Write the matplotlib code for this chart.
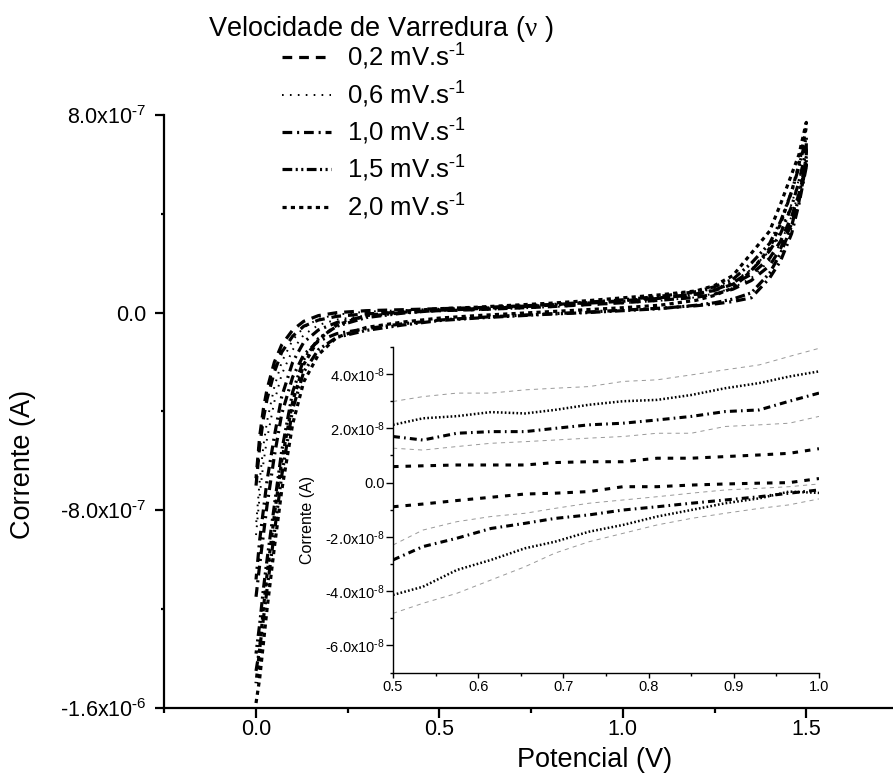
import numpy as np
import matplotlib
matplotlib.use("Agg")
import matplotlib.pyplot as plt
from matplotlib.ticker import MultipleLocator, FixedLocator, FixedFormatter

plt.rcParams['font.family'] = ['Liberation Sans', 'DejaVu Sans']
plt.rcParams['mathtext.fontset'] = 'custom'
plt.rcParams['mathtext.rm'] = 'Liberation Serif'
plt.rcParams['mathtext.default'] = 'regular'
plt.rcParams['lines.scale_dashes'] = False

# --- main plot data (current in units of 1e-7 A) ---
potencial = np.array([0.00, 0.01, 0.02, 0.03, 0.05, 0.07, 0.10, 0.13, 0.17, 0.22,
                      0.30, 0.40, 0.50, 0.60, 0.70, 0.80, 0.90, 1.00, 1.10, 1.20,
                      1.25, 1.30, 1.35, 1.40, 1.43, 1.46, 1.48, 1.50])

i02_ida = [-7.0, -5.4, -4.3, -3.5, -2.4, -1.6, -0.95, -0.55, -0.3, -0.15, -0.05, 0.02, 0.08, 0.12,
           0.18, 0.24, 0.32, 0.4, 0.5, 0.62, 0.75, 0.95, 1.3, 1.9, 2.6, 3.6, 4.5, 6.0]
i02_volta = [-6.7, -5.0, -3.9, -3.1, -2.0, -1.3, -0.7, -0.35, -0.12, 0.0, 0.08, 0.12, 0.16, 0.2,
             0.26, 0.32, 0.4, 0.48, 0.6, 0.75, 0.9, 1.15, 1.55, 2.2, 2.9, 3.9, 4.8, 6.0]
i06_ida = [-9.0, -7.4, -6.1, -5.1, -3.6, -2.5, -1.5, -0.9, -0.5, -0.28, -0.12, -0.02, 0.06, 0.1,
           0.16, 0.22, 0.3, 0.38, 0.48, 0.62, 0.78, 1.0, 1.4, 2.1, 2.8, 3.9, 4.9, 6.4]
i06_volta = [-8.6, -6.8, -5.4, -4.4, -3.0, -2.0, -1.1, -0.6, -0.25, -0.08, 0.04, 0.1, 0.16, 0.2,
             0.26, 0.32, 0.4, 0.5, 0.62, 0.8, 0.98, 1.25, 1.75, 2.5, 3.3, 4.4, 5.4, 6.4]
i10_ida = [-11.5, -10.2, -9.0, -7.8, -5.8, -4.1, -2.6, -1.7, -1.15, -0.85, -0.65, -0.45, -0.3, -0.2,
           -0.12, -0.05, 0.02, 0.1, 0.18, 0.28, 0.35, 0.45, 0.6, 1.4, 2.1, 3.2, 4.4, 5.9]
i10_volta = [-10.8, -9.2, -8.0, -6.8, -5.0, -3.4, -2.0, -1.2, -0.7, -0.4, -0.15, 0.0, 0.1, 0.15,
             0.22, 0.3, 0.38, 0.46, 0.58, 0.75, 0.92, 1.2, 1.7, 2.5, 3.2, 4.3, 5.3, 6.6]
i15_ida = [-14.5, -13.6, -12.4, -11.2, -8.9, -6.6, -3.9, -2.4, -1.5, -1.0, -0.72, -0.5, -0.32, -0.22,
           -0.14, -0.06, 0.0, 0.08, 0.16, 0.3, 0.4, 0.55, 0.8, 1.6, 2.4, 3.5, 4.7, 6.3]
i15_volta = [-13.8, -12.6, -11.2, -10.0, -7.8, -5.6, -3.2, -1.9, -1.05, -0.55, -0.2, -0.02, 0.1, 0.16,
             0.24, 0.32, 0.42, 0.52, 0.66, 0.85, 1.05, 1.35, 2.0, 2.8, 3.7, 4.9, 5.9, 7.1]
i20_ida = [-15.8, -14.8, -13.4, -12.0, -9.5, -7.2, -4.5, -2.8, -1.7, -1.0, -0.6, -0.38, -0.22, -0.12,
           -0.04, 0.04, 0.12, 0.2, 0.3, 0.5, 0.7, 1.0, 1.7, 2.6, 3.6, 4.9, 6.0, 7.5]
i20_volta = [-15.0, -13.6, -12.0, -10.6, -8.2, -6.0, -3.6, -2.1, -1.1, -0.5, -0.12, 0.06, 0.16, 0.22,
             0.3, 0.38, 0.48, 0.6, 0.72, 0.88, 1.1, 1.5, 2.4, 3.3, 4.4, 5.6, 6.4, 7.7]

titulo_legenda = 'Velocidade de Varredura ($\\mathrm{\\nu}$ )'
rotulos = ['0,2 mV.s$^{\\text{-}1}$', '0,6 mV.s$^{\\text{-}1}$', '1,0 mV.s$^{\\text{-}1}$',
           '1,5 mV.s$^{\\text{-}1}$', '2,0 mV.s$^{\\text{-}1}$']
curvas = [(i02_ida, i02_volta), (i06_ida, i06_volta), (i10_ida, i10_volta),
          (i15_ida, i15_volta), (i20_ida, i20_volta)]
estilos = [dict(dashes=(7, 5), lw=2.3),
           dict(dashes=(1.2, 4.5), lw=1.4),
           dict(dashes=(7, 3.5, 1.5, 3.5), lw=2.3),
           dict(dashes=(7, 2.5, 1.5, 2.5, 1.5, 2.5), lw=2.3),
           dict(dashes=(3, 3), lw=2.3)]

# --- inset data (current in units of 1e-8 A) ---
pot_ins = np.array([0.50, 0.535, 0.575, 0.615, 0.655, 0.69, 0.73, 0.77, 0.81, 0.85, 0.89, 0.93, 0.965, 1.00])
ins_tracejada_sup = [0.59, 0.62, 0.65, 0.65, 0.65, 0.74, 0.77, 0.77, 0.9, 0.9, 0.96, 1.02, 1.08, 1.25]
ins_tracejada_inf = [-0.89, -0.79, -0.66, -0.54, -0.42, -0.39, -0.33, -0.15, -0.15, -0.09, -0.05, -0.02, 0.0, 0.15]
ins_cinza1_sup = [1.27, 1.2, 1.33, 1.45, 1.51, 1.57, 1.64, 1.7, 1.82, 1.82, 2.07, 2.13, 2.19, 2.44]
ins_cinza1_inf = [-2.3, -1.75, -1.44, -1.25, -1.13, -0.95, -0.76, -0.64, -0.52, -0.39, -0.27, -0.21, -0.15, -0.05]
ins_tracoponto_sup = [1.7, 1.57, 1.82, 1.88, 1.88, 2.0, 2.13, 2.19, 2.31, 2.44, 2.62, 2.68, 3.0, 3.3]
ins_tracoponto_inf = [-2.85, -2.36, -2.05, -1.69, -1.5, -1.32, -1.19, -1.01, -0.89, -0.76, -0.64, -0.52, -0.39, -0.27]
ins_pontilhada_sup = [2.13, 2.37, 2.45, 2.6, 2.55, 2.68, 2.87, 3.0, 3.05, 3.23, 3.48, 3.67, 3.91, 4.1]
ins_pontilhada_inf = [-4.14, -3.84, -3.22, -2.85, -2.42, -2.18, -1.81, -1.56, -1.25, -1.01, -0.76, -0.58, -0.33, -0.38]
ins_cinza2_sup = [2.99, 3.17, 3.3, 3.3, 3.42, 3.48, 3.54, 3.73, 3.79, 3.97, 4.16, 4.34, 4.65, 4.95]
ins_cinza2_inf = [-4.82, -4.45, -4.08, -3.59, -3.1, -2.6, -2.18, -1.87, -1.56, -1.32, -1.13, -0.95, -0.82, -0.6]

yticks_main = [-1.6e-6, -8e-7, 0.0, 8e-7]
yticklabels_main = ['-1.6x10$^{\\text{-}6}$', '-8.0x10$^{\\text{-}7}$', '0.0', '8.0x10$^{\\text{-}7}$']
yticks_ins = [-6e-8, -4e-8, -2e-8, 0.0, 2e-8, 4e-8]
yticklabels_ins = ['-6.0x10$^{\\text{-}8}$', '-4.0x10$^{\\text{-}8}$', '-2.0x10$^{\\text{-}8}$', '0.0',
                   '2.0x10$^{\\text{-}8}$', '4.0x10$^{\\text{-}8}$']

fig = plt.figure(figsize=(8.93, 7.78), dpi=100)
ax = fig.add_axes([0.184, 0.090, 0.8216, 0.7622])

for (ida, volta), rot, est in zip(curvas, rotulos, estilos):
    v = np.concatenate([potencial, potencial[::-1]])
    i = np.concatenate([ida, volta[::-1]]) * 1e-7
    ax.plot(v, i, color='black', label=rot, **est)

ax.set_xlim(-0.25, 1.75)
ax.set_ylim(-1.6e-6, 8e-7)
ax.xaxis.set_major_locator(FixedLocator([0.0, 0.5, 1.0, 1.5]))
ax.xaxis.set_major_formatter(FixedFormatter(['0.0', '0.5', '1.0', '1.5']))
ax.xaxis.set_minor_locator(MultipleLocator(0.25))
ax.yaxis.set_major_locator(FixedLocator(yticks_main))
ax.yaxis.set_major_formatter(FixedFormatter(yticklabels_main))
ax.yaxis.set_minor_locator(MultipleLocator(4e-7))
for s in ['top', 'right']:
    ax.spines[s].set_visible(False)
for s in ['left', 'bottom']:
    ax.spines[s].set_linewidth(1.6)
ax.tick_params(which='both', direction='out', width=1.6, labelsize=15.5)
ax.tick_params(axis='x', which='major', length=7, pad=1)
ax.tick_params(axis='x', which='minor', length=3.5)
ax.tick_params(axis='y', which='major', length=6.2, pad=6.5)
ax.tick_params(axis='y', which='minor', length=2.5)
ax.set_xlabel('Potencial (V)', fontsize=19.5)
ax.set_ylabel('Corrente (A)', fontsize=19.5)
ax.xaxis.set_label_coords(0.587, -0.066)
ax.yaxis.set_label_coords(-0.175, 0.41)

# legend title as a separate text, entries below it
fig.text(381 / 893, 1 - 29 / 778, titulo_legenda, ha='center', va='center', fontsize=19.5)
leg = ax.legend(loc='upper left', bbox_to_anchor=(282 / 893, 1 - 42 / 778),
                bbox_transform=fig.transFigure, frameon=False, fontsize=18.5,
                handlelength=1.9, handletextpad=0.62, labelspacing=0.28,
                borderpad=0, borderaxespad=0)

# --- inset ---
axi = fig.add_axes([0.4401, 0.1356, 0.4770, 0.4184], facecolor='none')
preto = 'black'
cinza = '0.6'
axi.plot(pot_ins, np.array(ins_cinza2_sup) * 1e-8, color=cinza, lw=0.7, dashes=(3, 3))
axi.plot(pot_ins, np.array(ins_cinza2_inf) * 1e-8, color=cinza, lw=0.7, dashes=(3, 3))
axi.plot(pot_ins, np.array(ins_cinza1_sup) * 1e-8, color=cinza, lw=0.7, dashes=(3, 3))
axi.plot(pot_ins, np.array(ins_cinza1_inf) * 1e-8, color=cinza, lw=0.7, dashes=(3, 3))
axi.plot(pot_ins, np.array(ins_tracejada_sup) * 1e-8, color=preto, lw=2.2, dashes=(4, 5))
axi.plot(pot_ins, np.array(ins_tracejada_inf) * 1e-8, color=preto, lw=2.2, dashes=(4, 5))
axi.plot(pot_ins, np.array(ins_tracoponto_sup) * 1e-8, color=preto, lw=2.2, dashes=(5, 3, 1.2, 3))
axi.plot(pot_ins, np.array(ins_tracoponto_inf) * 1e-8, color=preto, lw=2.2, dashes=(5, 3, 1.2, 3))
axi.plot(pot_ins, np.array(ins_pontilhada_sup) * 1e-8, color=preto, lw=1.8, dashes=(1.2, 1.6))
axi.plot(pot_ins, np.array(ins_pontilhada_inf) * 1e-8, color=preto, lw=1.8, dashes=(1.2, 1.6))

axi.set_xlim(0.5, 1.0)
axi.set_ylim(-7e-8, 5e-8)
axi.xaxis.set_major_locator(FixedLocator([0.5, 0.6, 0.7, 0.8, 0.9, 1.0]))
axi.xaxis.set_major_formatter(FixedFormatter(['0.5', '0.6', '0.7', '0.8', '0.9', '1.0']))
axi.xaxis.set_minor_locator(MultipleLocator(0.05))
axi.yaxis.set_major_locator(FixedLocator(yticks_ins))
axi.yaxis.set_major_formatter(FixedFormatter(yticklabels_ins))
axi.yaxis.set_minor_locator(MultipleLocator(1e-8))
for s in ['top', 'right']:
    axi.spines[s].set_visible(False)
for s in ['left', 'bottom']:
    axi.spines[s].set_linewidth(1.0)
axi.tick_params(which='both', direction='out', width=1.0, labelsize=10.5)
axi.tick_params(axis='x', which='major', length=3.4, pad=2)
axi.tick_params(axis='x', which='minor', length=2)
axi.tick_params(axis='y', which='major', length=4.8, pad=1)
axi.tick_params(axis='y', which='minor', length=2.4)
axi.set_ylabel('Corrente (A)', fontsize=11.5)
axi.yaxis.set_label_coords(-0.183, 0.47)

fig.savefig('out.png', dpi=100)
